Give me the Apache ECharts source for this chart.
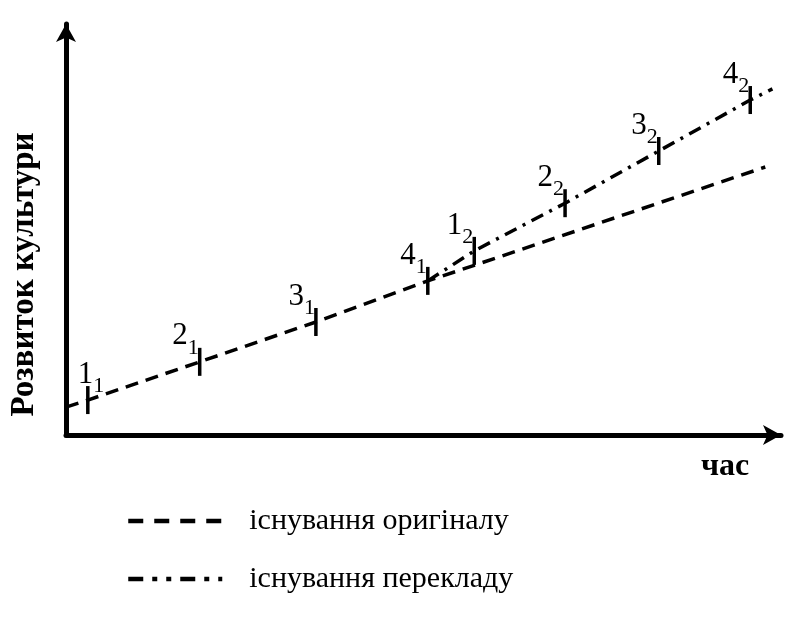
<!DOCTYPE html>
<html>
<head>
<meta charset="utf-8">
<script src="https://cdn.jsdelivr.net/npm/echarts@6/dist/echarts.min.js"></script>
<style>
html,body{margin:0;padding:0;background:#fff;}
#chart{width:792px;height:630px;}
</style>
</head>
<body>
<div id="chart"></div>
<script>
// ---- data ----
const seriesNames = ['існування оригіналу', 'існування перекладу'];
const xAxisName = 'час';
const yAxisName = 'Розвиток культури';

const originalX = [0, 3.05, 18.7, 34.95, 50.6, 57.3, 97.8];
const originalY = [6.8, 8.5, 17.8, 27.5, 37.5, 41.4, 65.2];

const translationX = [50.6, 57.1, 69.8, 82.9, 95.7, 98.8];
const translationY = [37.5, 44.8, 56.4, 69.1, 81.5, 84.2];

const stageLabels = ['1', '2', '3', '4'];
const originalStageX = [3.05, 18.7, 34.95, 50.6];
const originalStageY = [8.5, 17.8, 27.5, 37.5];
const translationStageX = [57.1, 69.8, 82.9, 95.7];
const translationStageY = [44.8, 56.4, 69.1, 81.5];

// ---- build ----
const serif = 'Liberation Serif';
function pairs(xs, ys) { return xs.map((x, i) => [x, ys[i]]); }

const richLabel = {
  n: { fontFamily: serif, fontSize: 31, lineHeight: 32, verticalAlign: 'top', color: '#000' },
  s: { fontFamily: serif, fontSize: 22, lineHeight: 22, padding: [16, 0, 0, 0], verticalAlign: 'top', color: '#000' }
};

function stageSeries(xs, ys, sub) {
  return {
    type: 'scatter',
    symbol: 'rect',
    symbolSize: [3.5, 28],
    itemStyle: { color: '#000', opacity: 1 },
    silent: true,
    z: 5,
    data: xs.map((x, i) => {
      const item = { value: [x, ys[i]], name: stageLabels[i] };
      if (sub === '1' && i === 0) {
        item.label = { align: 'left', offset: [-10, 0] };
      }
      return item;
    }),
    label: {
      show: true,
      position: 'top',
      distance: -5,
      align: 'right',
      offset: [-1, 0],
      opacity: 1,
      formatter: p => '{n|' + p.name + '}{s|' + sub + '}',
      rich: richLabel
    }
  };
}

const hiddenSymbol = { color: 'rgba(0,0,0,0)', borderWidth: 0, opacity: 0 };

const chart = echarts.init(document.getElementById('chart'), null, { renderer: 'canvas' });
chart.setOption({
  animation: false,
  backgroundColor: '#fff',
  grid: { left: 60, right: 11, top: 24, bottom: 195 },
  xAxis: {
    type: 'value', min: 0, max: 100,
    name: xAxisName,
    nameLocation: 'end',
    nameGap: -80,
    nameTextStyle: { fontFamily: serif, fontWeight: 'bold', fontSize: 32, color: '#000', align: 'left', verticalAlign: 'top', padding: [16, 0, 0, 0] },
    axisLine: { lineStyle: { color: '#000', width: 5 }, symbol: ['none', 'arrow'], symbolSize: [15, 18] },
    axisTick: { show: false }, axisLabel: { show: false }, splitLine: { show: false }
  },
  yAxis: {
    type: 'value', min: 0, max: 100,
    name: yAxisName,
    nameLocation: 'middle',
    nameRotate: 90,
    nameGap: 25,
    nameTextStyle: { fontFamily: serif, fontWeight: 'bold', fontSize: 33, color: '#000', padding: [0, 90, 0, 0] },
    axisLine: { lineStyle: { color: '#000', width: 5 }, symbol: ['none', 'arrow'], symbolSize: [15, 18] },
    axisTick: { show: false }, axisLabel: { show: false }, splitLine: { show: false }
  },
  legend: {
    orient: 'vertical',
    left: 121,
    top: 501,
    itemWidth: 94,
    itemHeight: 20,
    itemGap: 28,
    textStyle: { fontFamily: serif, fontSize: 30, color: '#000', padding: [0, 0, 0, 22] },
    data: [
      { name: seriesNames[0], itemStyle: hiddenSymbol, lineStyle: { type: [15, 11], width: 4.5, color: '#000' } },
      { name: seriesNames[1], itemStyle: hiddenSymbol, lineStyle: { type: [15, 9, 5, 9, 5, 9], width: 4.5, color: '#000' } }
    ]
  },
  series: [
    {
      name: seriesNames[0], type: 'line', symbol: 'none', silent: true,
      lineStyle: { color: '#000', width: 3.5, type: [13, 8] },
      itemStyle: { color: '#000' },
      data: pairs(originalX, originalY)
    },
    {
      name: seriesNames[1], type: 'line', symbol: 'none', silent: true,
      lineStyle: { color: '#000', width: 3.5, type: [13, 7, 3, 7] },
      itemStyle: { color: '#000' },
      data: pairs(translationX, translationY)
    },
    stageSeries(originalStageX, originalStageY, '1'),
    stageSeries(translationStageX, translationStageY, '2')
  ]
});
</script>
</body>
</html>
